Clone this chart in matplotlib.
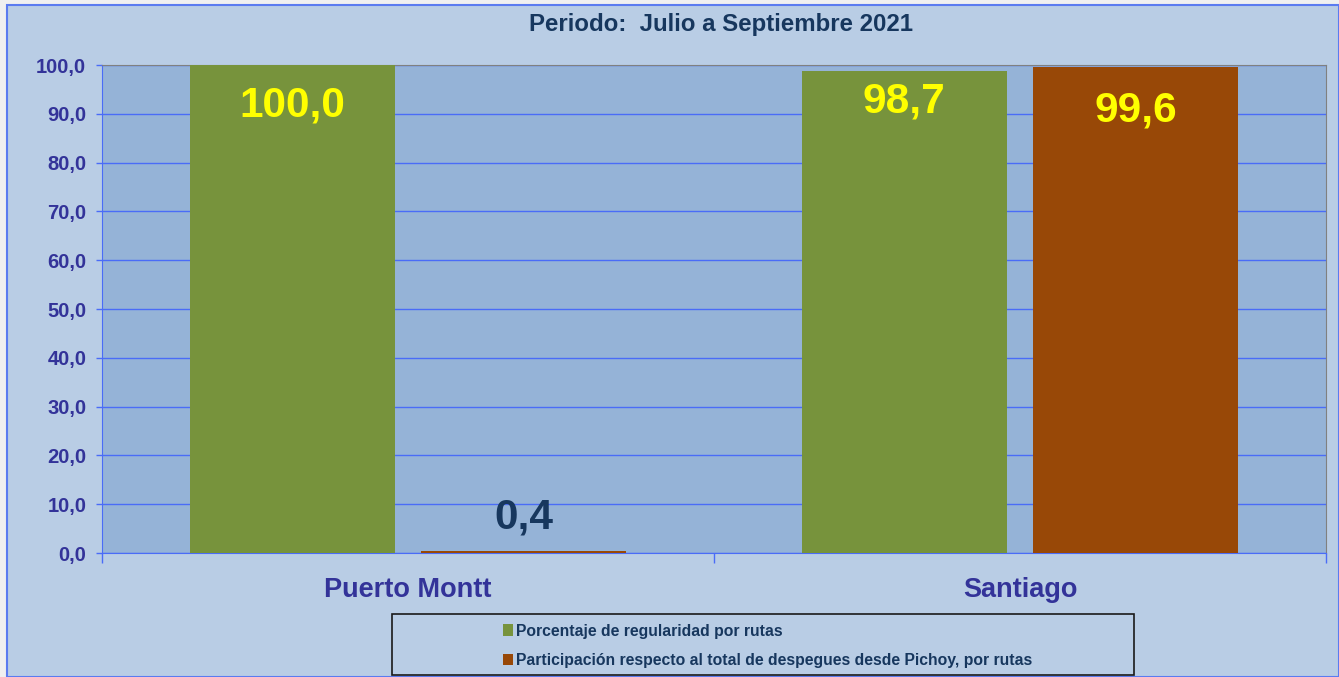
import matplotlib
matplotlib.use("Agg")
import matplotlib.pyplot as plt
from matplotlib.patches import Rectangle, Patch
import numpy as np

plt.rcParams['font.family'] = ['Liberation Sans', 'DejaVu Sans']

rutas = ["Puerto Montt", "Santiago"]
regularidad = [100.0, 98.7]
participacion = [0.4, 99.6]
serie_nombres = ["Porcentaje de regularidad por rutas",
                 "Participación respecto al total de despegues desde Pichoy, por rutas"]
titulo = "Periodo:  Julio a Septiembre 2021"
yticks = np.arange(0, 101, 10)

# desplazamiento vertical de las etiquetas de valor (unidades del eje)
desp_reg = [-8.2, -6.1]
desp_par = [6.8, -9.0]

verde = "#77933C"
cafe = "#984807"
azul_grid = "#4A6CF7"
texto_azul = "#333399"
texto_oscuro = "#17375E"

def fmt(v):
    return f"{v:.1f}".replace(".", ",")

fig = plt.figure(figsize=(13.39, 6.77), dpi=100)
fig.patch.set_facecolor("#F0F0F0")
# fondo del gráfico con borde azul
fig.patches.append(Rectangle((7 / 1339, 0), 1 - 7 / 1339, 1 - 5 / 677,
                             transform=fig.transFigure, facecolor="#B9CDE5",
                             edgecolor="#5B7BF0", linewidth=1.5, zorder=-5))

ax = fig.add_axes([102 / 1339, 1 - 553 / 677, 1224 / 1339, 488 / 677])
ax.set_facecolor("#95B3D7")

x = np.arange(len(rutas))
w = 0.335
off = 0.189
ax.bar(x - off, regularidad, w, color=verde, zorder=3)
ax.bar(x + off, participacion, w, color=cafe, zorder=3)

for xi, v, d in zip(x - off, regularidad, desp_reg):
    ax.text(xi, v + d, fmt(v), ha="center", va="center", fontsize=30.5,
            fontweight="bold", color="#FFFF00", zorder=4)
for xi, v, d in zip(x + off, participacion, desp_par):
    color = "#FFFF00" if d < 0 else texto_oscuro
    ax.text(xi, v + d, fmt(v), ha="center", va="center", fontsize=30.5,
            fontweight="bold", color=color, zorder=4)

ax.set_xlim(-0.5, len(rutas) - 0.5)
ax.set_ylim(0, 100)
ax.set_yticks(yticks)
ax.set_yticklabels([fmt(v) for v in yticks])
ax.yaxis.grid(True, color=azul_grid, linewidth=1, zorder=1)
ax.set_axisbelow(True)

ax.set_xticks(np.arange(-0.5, len(rutas), 1.0))
ax.set_xticklabels([])
ax.set_xticks(x, minor=True)
ax.set_xticklabels(rutas, minor=True)
ax.tick_params(axis="x", which="major", length=7, color=azul_grid, width=1)
ax.tick_params(axis="x", which="minor", length=0, pad=17, labelsize=19.5,
               labelcolor=texto_azul)
ax.tick_params(axis="y", length=4.3, color=azul_grid, width=1, pad=7,
               labelsize=14.5, labelcolor=texto_azul)
for lab in ax.get_yticklabels() + ax.get_xticklabels(minor=True):
    lab.set_fontweight("bold")

ax.spines["left"].set_color(azul_grid)
ax.spines["bottom"].set_color(azul_grid)
ax.spines["top"].set_color("#808080")
ax.spines["right"].set_color("#808080")

fig.text(721 / 1339, 1 - 25 / 677, titulo, ha="center", va="center",
         fontsize=17.3, fontweight="bold", color=texto_oscuro)

# leyenda
fig.patches.append(Rectangle((392 / 1339, 2 / 677), 742 / 1339, 61 / 677,
                             transform=fig.transFigure, facecolor="none",
                             edgecolor="#1A1A1A", linewidth=1.2, zorder=5))
handles = [Patch(facecolor=verde), Patch(facecolor=cafe)]
leg = fig.legend(handles, serie_nombres, loc="center left",
                 bbox_to_anchor=(489 / 1339, 1 - 646 / 677), frameon=False,
                 fontsize=11.35, handlelength=0.65, handleheight=0.7,
                 handletextpad=0.15, labelspacing=0.95)
for t in leg.get_texts():
    t.set_color(texto_oscuro)
    t.set_fontweight("bold")

fig.savefig("out.png", dpi=100, facecolor=fig.get_facecolor())
